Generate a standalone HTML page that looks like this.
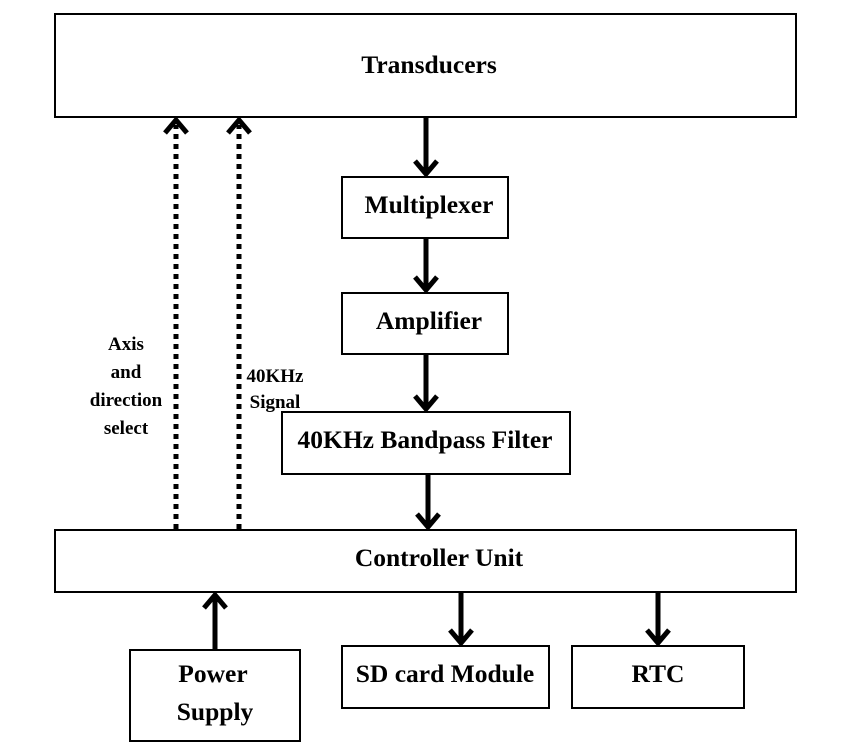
<!DOCTYPE html>
<html><head><style>body{margin:0;background:#fff}</style></head><body>
<svg width="857" height="747" xmlns="http://www.w3.org/2000/svg" font-family="Liberation Serif, serif" font-weight="bold">
<g fill="#fff" stroke="#000" stroke-width="2">
<rect x="55" y="14" width="741" height="103"/>
<rect x="342" y="177" width="166" height="61"/>
<rect x="342" y="293" width="166" height="61"/>
<rect x="282" y="412" width="288" height="62"/>
<rect x="55" y="530" width="741" height="62"/>
<rect x="130" y="650" width="170" height="91"/>
<rect x="342" y="646" width="207" height="62"/>
<rect x="572" y="646" width="172" height="62"/>
</g>
<g stroke="#000" stroke-width="5" fill="none" stroke-linecap="butt">
<path d="M426 118V174M415 161L426 174L437 161"/>
<path d="M426 239V290M415 277L426 290L437 277"/>
<path d="M426 355V409M415 396L426 409L437 396"/>
<path d="M428 475V527M417 514L428 527L439 514"/>
<path d="M215 649V595M204 608L215 595L226 608"/>
<path d="M461 593V643M450 630L461 643L472 630"/>
<path d="M658 593V643M647 630L658 643L669 630"/>
<path d="M165 133L176 120L187 133M228 133L239 120L250 133"/>
</g>
<g stroke="#000" stroke-width="5" stroke-dasharray="5 5">
<path d="M176 529V125M239 529V125"/>
</g>
<g font-size="25.5" text-anchor="middle">
<text x="429" y="73">Transducers</text>
<text x="429" y="213">Multiplexer</text>
<text x="429" y="329">Amplifier</text>
<text x="425" y="448">40KHz Bandpass Filter</text>
<text x="439" y="566">Controller Unit</text>
<text x="213" y="682">Power</text>
<text x="215" y="720">Supply</text>
<text x="445" y="682">SD card Module</text>
<text x="658" y="682">RTC</text>
</g>
<g font-size="19" text-anchor="middle">
<text x="126" y="350">Axis</text>
<text x="126" y="378">and</text>
<text x="126" y="406">direction</text>
<text x="126" y="434">select</text>
<text x="275" y="382">40KHz</text>
<text x="275" y="408">Signal</text>
</g>
</svg>
</body></html>
